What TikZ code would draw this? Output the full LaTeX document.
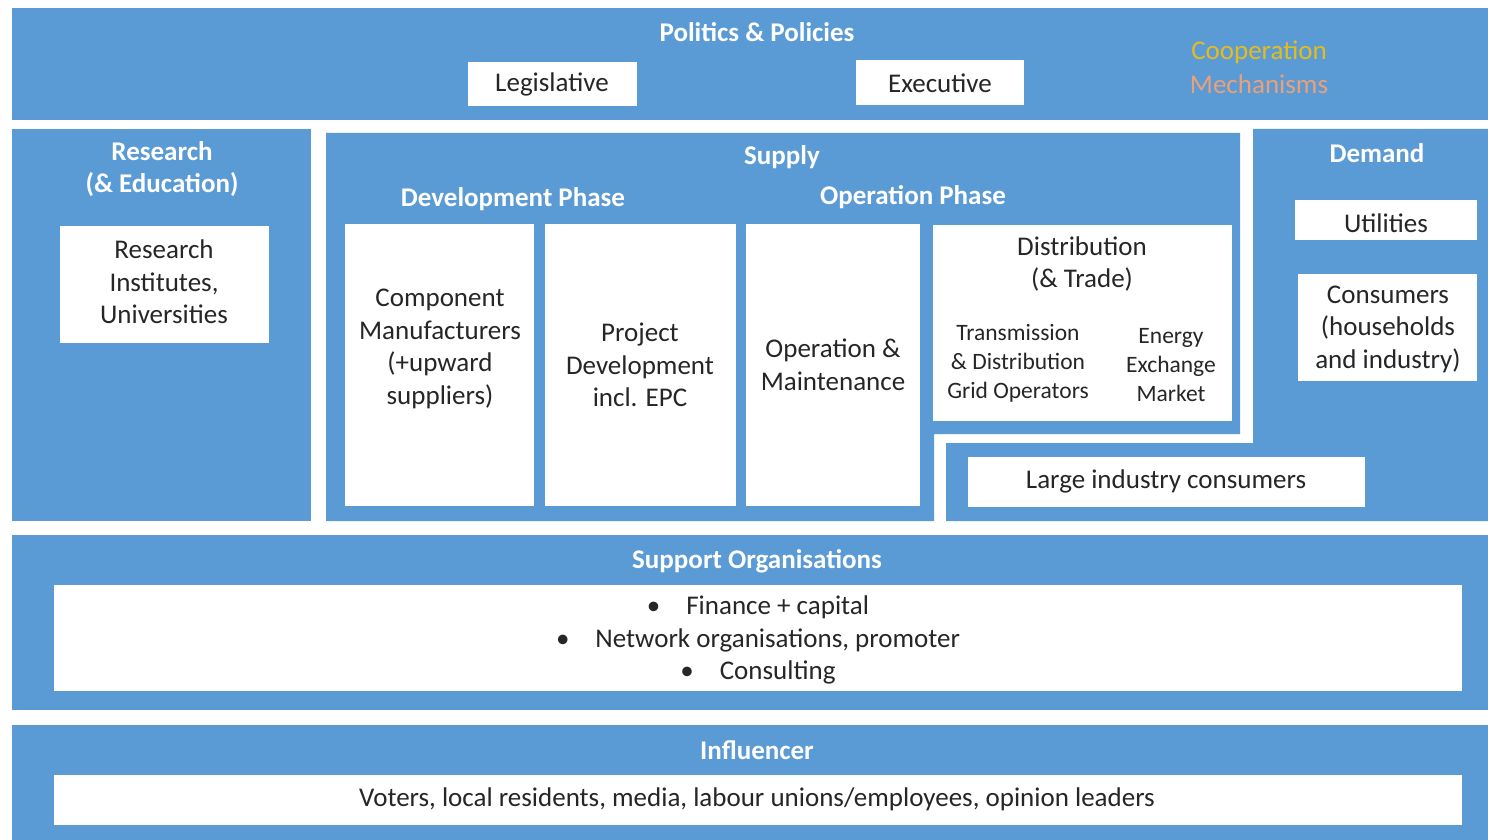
\documentclass[tikz,border=0pt]{standalone}
\usepackage{fontspec}
\setmainfont{Carlito}
\definecolor{panelblue}{RGB}{91,155,213}
\definecolor{coopyellow}{RGB}{228,188,30}
\definecolor{cooporange}{RGB}{236,160,120}
\tikzset{
  panel/.style={fill=panelblue, draw=none},
  wbox/.style={fill=white, draw=none, inner sep=0pt},
  head/.style={text=white, font=\fontsize{27}{32}\selectfont\bfseries, inner sep=0pt, align=center},
  body/.style={text=black!85, font=\fontsize{27}{32.5}\selectfont, inner sep=0pt, align=center},
  small/.style={text=black!85, font=\fontsize{23.5}{29}\selectfont, inner sep=0pt, align=center},
  coop/.style={inner sep=0pt, font=\fontsize{27}{32}\selectfont},
}
\begin{document}
\begin{tikzpicture}[x=1pt,y=-1pt]
\useasboundingbox (0,0) rectangle (1488,840);
\fill[white] (0,0) rectangle (1488,840);

% blue panels
\fill[panel] (12,8) rectangle (1488,120);
\fill[panel] (12,129) rectangle (311,521);
\fill[panel] (326,133) -- (1240,133) -- (1240,434) -- (934,434) -- (934,521) -- (326,521) -- cycle;
\fill[panel] (1253,129) -- (1488,129) -- (1488,521) -- (946,521) -- (946,443) -- (1253,443) -- cycle;
\fill[panel] (12,535) rectangle (1488,710);
\fill[panel] (12,725) rectangle (1488,840);

% politics & policies
\node[head] (pol) at (757,32) {Politics \& Policies};
\fill[wbox] (468,62) rectangle (637,106);
\node[body] (leg) at (552,84) {Legislative};
\fill[wbox] (856,60) rectangle (1024,105);
\node[body] (exe) at (940,83) {Executive};
\node[coop, text=coopyellow] (coopn) at (1259,52) {Cooperation};
\node[coop, text=cooporange] (mech) at (1259,84) {Mechanisms};

% research
\node[head] (res) at (162,169) {Research\\(\& Education)};
\fill[wbox] (60,226) rectangle (269,343);
\node[body] (inst) at (164,282) {Research\\Institutes,\\Universities};

% supply
\node[head] (sup) at (782,157) {Supply};
\node[head] (dev) at (513,199) {Development Phase};
\node[head] (opp) at (913,197) {Operation Phase};
\fill[wbox] (345,224) rectangle (534,506);
\node[body] (comp) at (440,349) {Component\\Manufacturers\\(+upward\\suppliers)};
\fill[wbox] (545,224) rectangle (736,506);
\node[body] (proj) at (640,365) {Project\\Development\\incl. EPC};
\fill[wbox] (746,224) rectangle (920,506);
\node[body] (om) at (833,365) {Operation \&\\Maintenance};
\fill[wbox] (933,225) rectangle (1232,421);
\node[body] (dist) at (1082,264) {Distribution\\(\& Trade)};
\node[small] (grid) at (1018,363) {Transmission\\\& Distribution\\Grid Operators};
\node[small] (exch) at (1171,365) {Energy\\Exchange\\Market};

% demand
\node[head] (dem) at (1377,153) {Demand};
\fill[wbox] (1295,200) rectangle (1477,240);
\node[body] (util) at (1386,223) {Utilities};
\fill[wbox] (1298,274) rectangle (1477,381);
\node[body] (cons) at (1388,329) {Consumers\\(households\\and industry)};
\fill[wbox] (968,457) rectangle (1365,507);
\node[body] (large) at (1166,481) {Large industry consumers};

% support organisations
\node[head] (supp) at (757,561) {Support Organisations};
\fill[wbox] (54,585) rectangle (1462,691);
\node[body] (supplist) at (758,640) {•\hspace{26pt}Finance + capital\\•\hspace{26pt}Network organisations, promoter\\•\hspace{26pt}Consulting};

% influencer
\node[head] (infl) at (757,750) {Influencer};
\fill[wbox] (54,775) rectangle (1462,825);
\node[body] (infllist) at (757,799) {Voters, local residents, media, labour unions/employees, opinion leaders};
\end{tikzpicture}
\end{document}
